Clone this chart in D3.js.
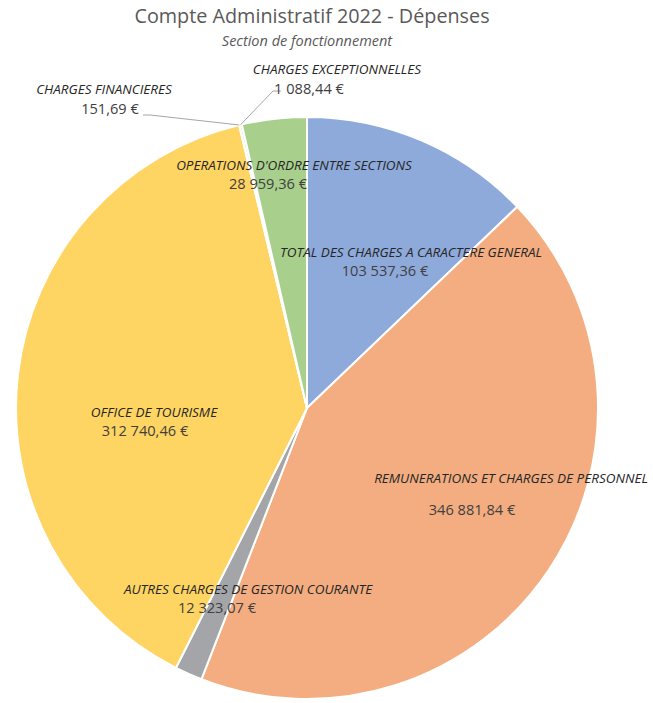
<!DOCTYPE html>
<html><head><meta charset="utf-8">
<script src="https://cdn.jsdelivr.net/npm/d3@7"></script>
<style>
html,body{margin:0;padding:0;background:#fff;}
svg{display:block;}
</style></head>
<body>
<script>
// ---- data ----
const categories = [
  "TOTAL DES CHARGES A CARACTERE GENERAL",
  "REMUNERATIONS ET CHARGES DE PERSONNEL",
  "AUTRES CHARGES DE GESTION COURANTE",
  "OFFICE DE TOURISME",
  "CHARGES FINANCIERES",
  "CHARGES EXCEPTIONNELLES",
  "OPERATIONS D'ORDRE ENTRE SECTIONS"
];
const values = [103537.36, 346881.84, 12323.07, 312740.46, 151.69, 1088.44, 28959.36];
const valueLabels = ["103 537,36 €", "346 881,84 €", "12 323,07 €", "312 740,46 €", "151,69 €", "1 088,44 €", "28 959,36 €"];
const title = "Compte Administratif 2022 - Dépenses";
const subtitle = "Section de fonctionnement";

// ---- styles / layout ----
const colors = ["#8eaadb", "#f3ad80", "#a3a5a8", "#fed563", "#f9e79e", "#c5dcb0", "#a8cf8c"];
const W = 653, H = 703;
const cx = 307, cy = 408, R = 291;
// label layout: [x of name center, baseline of name, x of value center, baseline of value]
const labelPos = [
  [411, 257, 385, 276],
  [511, 483, 472, 515],
  [248, 594, 217, 613],
  [154, 417, 145, 436],
  [104, 94, 110, 114],
  [337, 74, 309, 94],
  [294, 170, 268, 189]
];

const svg = d3.select("body").append("svg").attr("width", W).attr("height", H);

svg.append("text").attr("x", 312).attr("y", 23).attr("text-anchor", "middle")
  .attr("font-family", "'Open Sans', 'Liberation Sans', sans-serif").attr("font-size", 19.8)
  .attr("fill", "#595959").text(title);
svg.append("text").attr("x", 307).attr("y", 46).attr("text-anchor", "middle")
  .attr("font-family", "'Open Sans', 'Liberation Sans', sans-serif").attr("font-style", "italic")
  .attr("font-size", 14.5).attr("fill", "#595959").text(subtitle);

const data = categories.map((c, i) => ({ cat: c, value: values[i], label: valueLabels[i], i }));
const pie = d3.pie().sort(null).value(d => d.value);
const arcs = pie(data);
const arc = d3.arc().innerRadius(0).outerRadius(R);

const g = svg.append("g").attr("transform", `translate(${cx},${cy})`);
g.selectAll("path").data(arcs).join("path")
  .attr("d", arc)
  .attr("fill", d => colors[d.data.i])
  .attr("stroke", "#fff").attr("stroke-width", 2).attr("stroke-linejoin", "round");

// leader lines for the two tiny slices
function edgePoint(a) {
  const m = (a.startAngle + a.endAngle) / 2;
  return [cx + R * Math.sin(m), cy - R * Math.cos(m)];
}
const leader = svg.append("g").attr("stroke", "#a6a6a6").attr("stroke-width", 1).attr("fill", "none");
{
  const p = edgePoint(arcs[4]);
  leader.append("polyline").attr("points", [[143, 115], [150, 115], p].map(q => q.join(",")).join(" "));
  const p2 = edgePoint(arcs[5]);
  leader.append("polyline").attr("points", [[281, 91], [273, 91], p2].map(q => q.join(",")).join(" "));
}

const lab = svg.append("g");
arcs.forEach((a) => {
  const lp = labelPos[a.data.i];
  lab.append("text").attr("x", lp[0]).attr("y", lp[1]).attr("text-anchor", "middle")
    .attr("font-family", "'Open Sans', sans-serif").attr("font-style", "italic").attr("font-size", 13.5)
    .attr("fill", "#262626").text(a.data.cat);
  lab.append("text").attr("x", lp[2]).attr("y", lp[3]).attr("text-anchor", "middle")
    .attr("font-family", "'Open Sans', sans-serif").attr("font-size", 14.6)
    .attr("fill", "#404040").text(a.data.label);
});
</script>
</body></html>
